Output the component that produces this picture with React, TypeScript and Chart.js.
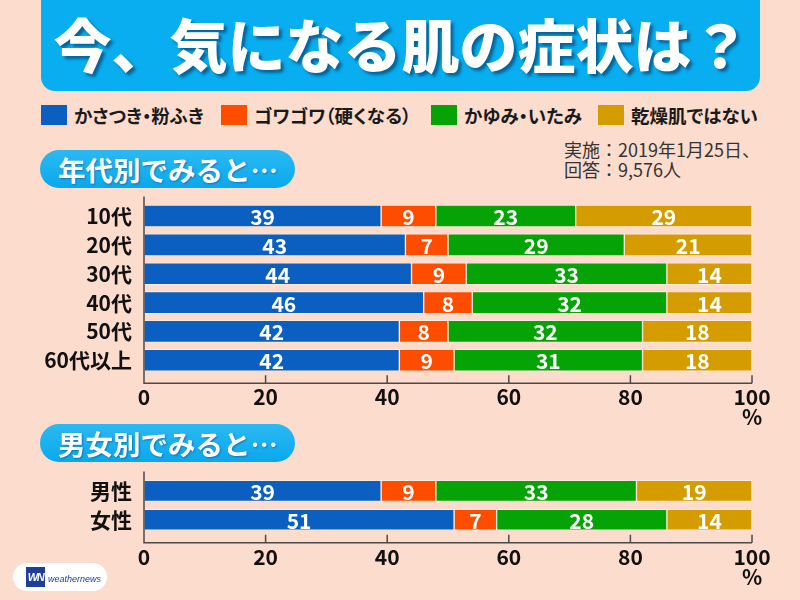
import React, { useEffect, useRef } from 'react';
import { Chart, registerables } from 'chart.js';

Chart.register(...registerables);

const FONT = '"Noto Sans CJK JP", "Noto Sans", sans-serif';
const BG = '#fcdccd';

const seriesNames = ['かさつき・粉ふき', 'ゴワゴワ（硬くなる）', 'かゆみ・いたみ', '乾燥肌ではない'];
const seriesColors = ['#0a5fc0', '#ff4d00', '#05a305', '#d59c00'];

const ageCategories = ['10代', '20代', '30代', '40代', '50代', '60代以上'];
const ageKasatsuki = [39, 43, 44, 46, 42, 42];
const ageGowagowa = [9, 7, 9, 8, 8, 9];
const ageKayumi = [23, 29, 33, 32, 32, 31];
const ageNone = [29, 21, 14, 14, 18, 18];

const sexCategories = ['男性', '女性'];
const sexKasatsuki = [39, 51];
const sexGowagowa = [9, 7];
const sexKayumi = [33, 28];
const sexNone = [19, 14];

const xTickValues = [0, 20, 40, 60, 80, 100];

const legendLefts = [41, 221, 431, 598];

const axisPlugin = {
  id: 'axisLines',
  afterDatasetsDraw(chart: any) {
    const { ctx, chartArea, scales } = chart;
    const x = scales.x;
    const axisY = chartArea.bottom + 8.5;
    const left = x.getPixelForValue(0);
    const right = x.getPixelForValue(100);
    ctx.save();
    ctx.strokeStyle = '#4a4a4a';
    ctx.lineWidth = 1.5;
    ctx.beginPath();
    ctx.moveTo(left, chartArea.top - 5);
    ctx.lineTo(left, axisY);
    ctx.lineTo(right, axisY);
    xTickValues.slice(1).forEach((v) => {
      const px = x.getPixelForValue(v);
      ctx.moveTo(px, axisY);
      ctx.lineTo(px, axisY - 8);
    });
    ctx.stroke();
    ctx.fillStyle = '#111';
    ctx.font = `bold 21px ${FONT}`;
    ctx.textAlign = 'center';
    ctx.textBaseline = 'middle';
    ctx.fillText('%', right, axisY + 34);
    ctx.restore();
  },
};

const valuePlugin = {
  id: 'valueLabels',
  afterDatasetsDraw(chart: any) {
    const { ctx } = chart;
    ctx.save();
    ctx.fillStyle = '#ffffff';
    ctx.font = `bold 21px ${FONT}`;
    ctx.textAlign = 'center';
    ctx.textBaseline = 'middle';
    chart.data.datasets.forEach((ds: any, i: number) => {
      const meta = chart.getDatasetMeta(i);
      meta.data.forEach((el: any, j: number) => {
        const p = el.getProps(['x', 'base', 'y'], true);
        ctx.fillText(String(ds.data[j]), (p.x + p.base) / 2, p.y + 1);
      });
    });
    ctx.restore();
  },
};

type BarProps = {
  categories: string[];
  series: number[][];
  top: number;
  height: number;
  padTop: number;
  xHeight: number;
  barThickness: number;
};

function StackedBar({ categories, series, top, height, padTop, xHeight, barThickness }: BarProps) {
  const ref = useRef<HTMLCanvasElement>(null);
  useEffect(() => {
    const chart = new Chart(ref.current as HTMLCanvasElement, {
      type: 'bar',
      data: {
        labels: categories,
        datasets: series.map((d, i) => ({
          label: seriesNames[i],
          data: d,
          backgroundColor: seriesColors[i],
          borderColor: 'rgba(255,235,222,0.9)',
          borderWidth: 1,
          borderSkipped: false,
          barThickness,
        })),
      },
      options: {
        indexAxis: 'y',
        responsive: false,
        maintainAspectRatio: false,
        animation: false,
        layout: { padding: { top: padTop, right: 48, bottom: 0, left: 0 } },
        plugins: { legend: { display: false }, tooltip: { enabled: false } },
        scales: {
          x: {
            stacked: true,
            min: 0,
            max: 100,
            grid: { display: false, drawTicks: false },
            border: { display: false },
            afterFit: (s: any) => {
              s.height = xHeight;
              s.paddingLeft = 0;
              s.paddingRight = 0;
            },
            ticks: {
              stepSize: 20,
              padding: 10,
              color: '#111',
              font: { family: FONT, size: 21, weight: 'bold' },
            },
          },
          y: {
            stacked: true,
            grid: { display: false, drawTicks: false },
            border: { display: false },
            afterFit: (s: any) => {
              s.width = 144;
              s.paddingTop = 0;
              s.paddingBottom = 0;
            },
            ticks: {
              autoSkip: false,
              padding: 12,
              color: '#111',
              font: { family: FONT, size: 21, weight: 'bold' },
            },
          },
        },
      } as any,
      plugins: [axisPlugin, valuePlugin],
    });
    return () => chart.destroy();
  }, []);
  return (
    <canvas
      ref={ref}
      width={800}
      height={height}
      style={{ position: 'absolute', left: 0, top, width: 800, height }}
    />
  );
}

function Pill({ top, text }: { top: number; text: string }) {
  return (
    <div
      style={{
        position: 'absolute',
        left: 40,
        top,
        width: 255,
        height: 38,
        borderRadius: 19,
        background: 'linear-gradient(#2bb9f3, #0aa8ec)',
        color: '#fff',
        fontSize: 27.5,
        fontWeight: 700,
        lineHeight: '38px',
        paddingLeft: 18,
        boxSizing: 'border-box',
        textShadow: '1px 1px 2px rgba(0,60,110,0.45)',
        whiteSpace: 'nowrap',
      }}
    >
      {text}
    </div>
  );
}

export default function App() {
  return (
    <div
      style={{
        position: 'fixed',
        left: 0,
        top: 0,
        width: 800,
        height: 600,
        background: BG,
        overflow: 'hidden',
        fontFamily: FONT,
      }}
    >
      <div
        style={{
          position: 'absolute',
          left: 41,
          top: -20,
          width: 719,
          height: 111,
          background: '#08aef0',
          borderRadius: 14,
        }}
      />
      <div
        style={{
          position: 'absolute',
          left: 42,
          top: 7,
          width: 719,
          height: 72,
          lineHeight: '72px',
          textAlign: 'center',
          color: '#fff',
          fontSize: 58,
          fontWeight: 900,
          whiteSpace: 'nowrap',
          textShadow: '3px 3px 3px rgba(0,40,80,0.55)',
        }}
      >
        今、気になる肌の症状は？
      </div>

      {seriesNames.map((name, i) => (
        <React.Fragment key={name}>
          <div
            style={{
              position: 'absolute',
              left: legendLefts[i],
              top: 105,
              width: 26,
              height: 20,
              background: seriesColors[i],
            }}
          />
          <div
            style={{
              position: 'absolute',
              left: legendLefts[i] + 33,
              top: 104,
              height: 22,
              lineHeight: '22px',
              fontSize: 18.5,
              fontWeight: 700,
              color: '#1a1a1a',
              whiteSpace: 'nowrap',
              fontFeatureSettings: '"palt"',
            }}
          >
            {name}
          </div>
        </React.Fragment>
      ))}

      <Pill top={150} text="年代別でみると…" />
      <div
        style={{
          position: 'absolute',
          left: 564,
          top: 139,
          fontSize: 18,
          lineHeight: '20px',
          color: '#333',
          whiteSpace: 'nowrap',
        }}
      >
        <div>実施：2019年1月25日、</div>
        <div>回答：9,576人</div>
      </div>

      <StackedBar
        categories={ageCategories}
        series={[ageKasatsuki, ageGowagowa, ageKayumi, ageNone]}
        top={190}
        height={240}
        padTop={11.6}
        xHeight={55.3}
        barThickness={22}
      />

      <Pill top={424} text="男女別でみると…" />

      <StackedBar
        categories={sexCategories}
        series={[sexKasatsuki, sexGowagowa, sexKayumi, sexNone]}
        top={466}
        height={130}
        padTop={10.4}
        xHeight={61.8}
        barThickness={21}
      />

      <div
        style={{
          position: 'absolute',
          left: 13,
          top: 563,
          width: 94,
          height: 28,
          borderRadius: 14,
          background: '#ffffff',
        }}
      />
      <div
        style={{
          position: 'absolute',
          left: 26,
          top: 567,
          width: 19,
          height: 20,
          background: '#1d3f9c',
          color: '#fff',
          fontSize: 11,
          fontWeight: 700,
          fontStyle: 'italic',
          lineHeight: '20px',
          textAlign: 'center',
          letterSpacing: -1.5,
          fontFamily: '"Liberation Sans", sans-serif',
        }}
      >
        WN
      </div>
      <div
        style={{
          position: 'absolute',
          left: 48,
          top: 573,
          fontSize: 9,
          lineHeight: '12px',
          fontStyle: 'italic',
          color: '#1d3f9c',
          fontFamily: '"Liberation Sans", sans-serif',
          whiteSpace: 'nowrap',
        }}
      >
        weathernews
      </div>
    </div>
  );
}
